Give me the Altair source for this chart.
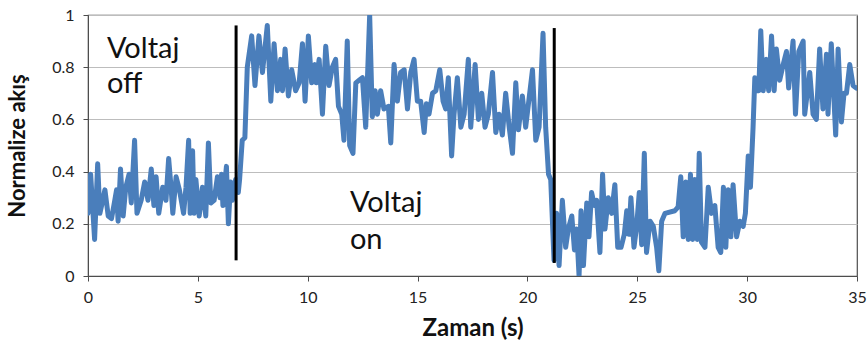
import altair as alt
import pandas as pd

# time (s)
zaman = [
    0.00, 0.12, 0.30, 0.44, 0.54, 0.62, 0.77, 0.92, 1.07, 1.22, 1.30, 1.37, 1.48, 1.60, 1.72, 1.87, 1.97,
    2.12, 2.23, 2.42, 2.58, 2.73, 2.88, 3.00, 3.10, 3.22, 3.40, 3.55, 3.67, 3.78, 3.86, 4.01, 4.16, 4.35,
    4.46, 4.58, 4.65, 4.76, 4.83, 4.91, 5.06, 5.21, 5.36, 5.48, 5.59, 5.74, 5.89, 6.01, 6.08, 6.14, 6.30,
    6.39, 6.49, 6.57, 6.72, 6.84, 6.90, 7.02, 7.14,
    7.25, 7.45, 7.60, 7.78, 7.94, 8.16, 8.32, 8.47, 8.62, 8.77, 8.85, 8.97, 9.12, 9.27, 9.45, 9.61, 9.76,
    9.88, 10.03, 10.18, 10.33, 10.39, 10.52, 10.67, 10.82, 10.97, 11.12, 11.27, 11.40, 11.55, 11.65, 11.80,
    11.91, 12.06, 12.19, 12.34, 12.49, 12.64, 12.82, 12.94, 13.07, 13.17, 13.32, 13.47, 13.67, 13.78, 13.93,
    14.08, 14.23, 14.39, 14.54, 14.69, 14.84, 14.99, 15.14, 15.30, 15.40, 15.52, 15.68, 15.83, 16.01, 16.16,
    16.28, 16.40, 16.55, 16.66, 16.81, 16.97, 17.12, 17.31, 17.42, 17.62, 17.77, 17.92, 18.07, 18.22, 18.41,
    18.56, 18.71, 18.86, 19.01, 19.17, 19.32, 19.47, 19.59, 19.77, 19.92, 20.23, 20.38, 20.53, 20.71, 20.83,
    20.96, 21.06, 21.21,
    21.33, 21.44, 21.59, 21.74, 21.86, 22.02, 22.14, 22.24, 22.35, 22.44, 22.55, 22.70, 22.80, 22.92, 23.05,
    23.15, 23.30, 23.42, 23.53, 23.68, 23.83, 23.98, 24.11, 24.26, 24.41, 24.52, 24.62, 24.71, 24.85, 24.97,
    25.09, 25.20, 25.32, 25.42, 25.58, 25.73, 25.88, 25.98, 26.11, 26.26, 26.71, 26.86, 26.98, 27.09, 27.21,
    27.32, 27.42, 27.52, 27.62, 27.73, 27.82, 27.92, 28.08, 28.23, 28.38, 28.53, 28.68, 28.80, 28.92, 29.03,
    29.14, 29.26, 29.36, 29.52, 29.67, 29.82, 29.92, 30.05, 30.15, 30.27, 30.35, 30.42, 30.53, 30.62, 30.73,
    30.88, 30.98, 31.11, 31.23, 31.33, 31.48, 31.64, 31.79, 31.89, 32.09, 32.20, 32.35, 32.55, 32.62, 32.85,
    33.00, 33.15, 33.30, 33.45, 33.61, 33.68, 33.83, 34.03, 34.14, 34.29, 34.41, 34.52, 34.67, 34.82, 34.97,
]

# normalized flux
akis = [
    0.24, 0.39, 0.14, 0.43, 0.24, 0.27, 0.33, 0.23, 0.22, 0.29, 0.33, 0.21, 0.41, 0.23, 0.34, 0.39, 0.28,
    0.52, 0.24, 0.29, 0.36, 0.29, 0.41, 0.27, 0.38, 0.24, 0.34, 0.29, 0.45, 0.34, 0.24, 0.38, 0.33, 0.24,
    0.34, 0.52, 0.24, 0.48, 0.24, 0.37, 0.23, 0.34, 0.23, 0.51, 0.28, 0.29, 0.38, 0.30, 0.39, 0.27, 0.42,
    0.20, 0.36, 0.29, 0.37, 0.32, 0.37, 0.52, 0.53,
    0.80, 0.92, 0.73, 0.92, 0.78, 0.96, 0.67, 0.89, 0.71, 0.83, 0.71, 0.87, 0.69, 0.79, 0.71, 0.74, 0.89,
    0.67, 0.92, 0.74, 0.81, 0.74, 0.83, 0.62, 0.88, 0.73, 0.80, 0.83, 0.65, 0.62, 0.52, 0.90,
    0.50, 0.47, 0.74, 0.75, 0.76, 0.57, 1.00, 0.61, 0.71, 0.62, 0.71, 0.64, 0.65, 0.51, 0.81,
    0.67, 0.78, 0.79, 0.64, 0.78, 0.83, 0.67, 0.67, 0.55, 0.66, 0.62, 0.70, 0.71, 0.79, 0.67,
    0.64, 0.76, 0.46, 0.62, 0.76, 0.57, 0.62, 0.83, 0.57, 0.81, 0.60, 0.70, 0.57, 0.62, 0.78,
    0.55, 0.62, 0.54, 0.70, 0.57, 0.47, 0.74, 0.56, 0.69, 0.57, 0.79, 0.52, 0.57, 0.93, 0.57,
    0.39, 0.37, 0.06,
    0.24, 0.04, 0.29, 0.11, 0.18, 0.23, 0.10, 0.18, 0.00, 0.25, 0.04, 0.28, 0.15, 0.32, 0.27,
    0.29, 0.09, 0.39, 0.18, 0.30, 0.24, 0.35, 0.11, 0.11, 0.16, 0.25, 0.16, 0.30, 0.11, 0.19,
    0.32, 0.12, 0.47, 0.09, 0.21, 0.19, 0.11, 0.02, 0.21, 0.24, 0.25, 0.265, 0.38, 0.15, 0.36,
    0.14, 0.39, 0.14, 0.37, 0.14, 0.47, 0.13, 0.11, 0.34, 0.24, 0.27, 0.11, 0.09, 0.34, 0.11,
    0.33, 0.15, 0.35, 0.15, 0.21, 0.19, 0.24, 0.46, 0.34, 0.57, 0.76, 0.71, 0.71, 0.94, 0.71,
    0.83, 0.71, 0.92, 0.71, 0.87, 0.75, 0.81, 0.86, 0.72, 0.90, 0.62, 0.86, 0.90, 0.62, 0.78,
    0.62, 0.60, 0.87, 0.64, 0.85, 0.62, 0.89, 0.54, 0.87, 0.59, 0.70, 0.70, 0.81, 0.73, 0.72,
]

# voltage switching markers
switch_x = [6.74, 21.22]
switch_y0 = [0.06, 0.05]
switch_y1 = [0.96, 0.95]

# annotation text
note_text = ["Voltaj", "off", "Voltaj", "on"]
note_x = [0.86, 0.86, 11.92, 11.92]
note_y = [0.835, 0.70, 0.245, 0.105]

df = pd.DataFrame({"t": zaman, "v": akis})
rules = pd.DataFrame({"x": switch_x, "y0": switch_y0, "y1": switch_y1})
notes = pd.DataFrame({"text": note_text, "x": note_x, "y": note_y})

FONT = "Lato"

xscale = alt.Scale(domain=[0, 35], nice=False, zero=False)
yscale = alt.Scale(domain=[0, 1], nice=False)

line = alt.Chart(df).mark_line(
    color="#4a7ebb", strokeWidth=5, strokeJoin="round", strokeCap="round", clip=True
).encode(
    x=alt.X("t:Q", scale=xscale, title="Zaman (s)",
            axis=alt.Axis(values=[0, 5, 10, 15, 20, 25, 30, 35], grid=False, tickSize=5,
                          labelPadding=8, titlePadding=11, format="d", labelFlush=False)),
    y=alt.Y("v:Q", scale=yscale, title="Normalize akış",
            axis=alt.Axis(values=[0, 0.2, 0.4, 0.6, 0.8, 1], grid=True, tickSize=5,
                          labelPadding=9, titlePadding=22, labelFlush=False,
                          labelExpr="datum.value == 0 ? '0' : datum.value == 1 ? '1' : format(datum.value, '.1f')")),
)

rule = alt.Chart(rules).mark_rule(color="black", strokeWidth=3).encode(
    x="x:Q", y="y0:Q", y2="y1:Q"
)

text = alt.Chart(notes).mark_text(
    align="left", baseline="alphabetic", fontSize=29, font=FONT, color="#111111"
).encode(x="x:Q", y="y:Q", text="text:N")

chart = (line + rule + text).properties(
    width=769, height=261,
    autosize=alt.AutoSizeParams(type="none"),
    padding={"left": 88, "top": 15, "right": 11, "bottom": 69},
).configure_view(
    stroke="#4d4d4d", strokeWidth=1.2
).configure_axis(
    domainColor="#4d4d4d", tickColor="#4d4d4d", gridColor="#bdbdbd", gridWidth=1.2,
    labelFont=FONT, labelFontSize=16, labelColor="#222222",
    titleFont=FONT, titleFontWeight="bold", titleColor="#111111",
).configure_axisX(
    titleFontSize=24
).configure_axisY(
    titleFontSize=22
)

chart.save("out.html", embed_options={"renderer": "svg", "actions": False})
